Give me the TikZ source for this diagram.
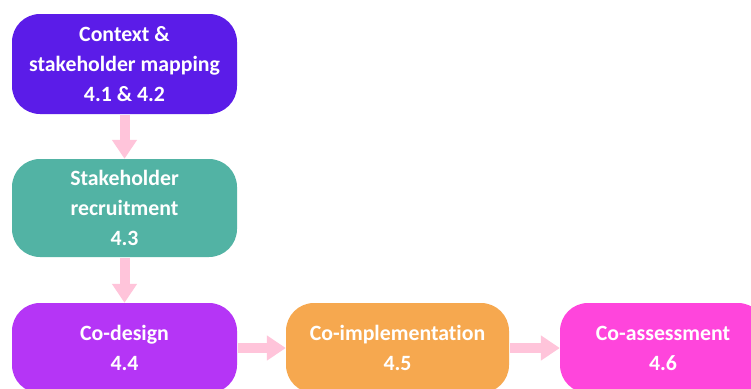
\documentclass[tikz,border=0pt]{standalone}
\usepackage{fontspec}
\setmainfont{Carlito}[Ligatures=NoCommon]
\usetikzlibrary{arrows.meta}

\definecolor{violetbox}{HTML}{5B1CE8}
\definecolor{tealbox}{HTML}{52B3A4}
\definecolor{purplebox}{HTML}{B535F6}
\definecolor{orangebox}{HTML}{F6A84F}
\definecolor{pinkbox}{HTML}{FF45DC}
\definecolor{arrowpink}{HTML}{FFC4DA}

\tikzset{
  stage/.style={rectangle, rounded corners=28pt, draw=none, text=white,
    align=center, inner sep=0pt,
    font=\fontsize{21.8}{30}\selectfont\bfseries},
  flowarrow/.style={draw=arrowpink, line width=10pt,
    -{Triangle[width=24pt, length=19pt]}, shorten <=1pt},
}

\begin{document}
\begin{tikzpicture}[x=1pt, y=-1pt]
  % page frame
  \fill[white] (0,0) rectangle (751,388);
  \clip (0,0) rectangle (751,388);
  \useasboundingbox (0,0) rectangle (751,388);

  % process stages
  \node[stage, fill=violetbox, minimum width=225pt, minimum height=100pt]
    (ctx) at (124.5,64) {Context \&\\stakeholder mapping\\4.1 \& 4.2};
  \node[stage, fill=tealbox, minimum width=225pt, minimum height=98pt]
    (rec) at (124.5,208) {Stakeholder\\recruitment\\4.3};
  \node[stage, fill=purplebox, minimum width=225pt, minimum height=90pt]
    (des) at (124.5,348) {Co-design\\4.4};
  \node[stage, fill=orangebox, minimum width=223pt, minimum height=90pt]
    (imp) at (397.5,348) {Co-implementation\\4.5};
  \node[stage, fill=pinkbox, minimum width=206pt, minimum height=90pt]
    (ass) at (663,348) {Co-assessment\\4.6};

  % connectors
  \draw[flowarrow] (ctx) -- (rec);
  \draw[flowarrow] (rec) -- (des);
  \draw[flowarrow] (des) -- (imp);
  \draw[flowarrow] (imp) -- (ass);
\end{tikzpicture}
\end{document}
